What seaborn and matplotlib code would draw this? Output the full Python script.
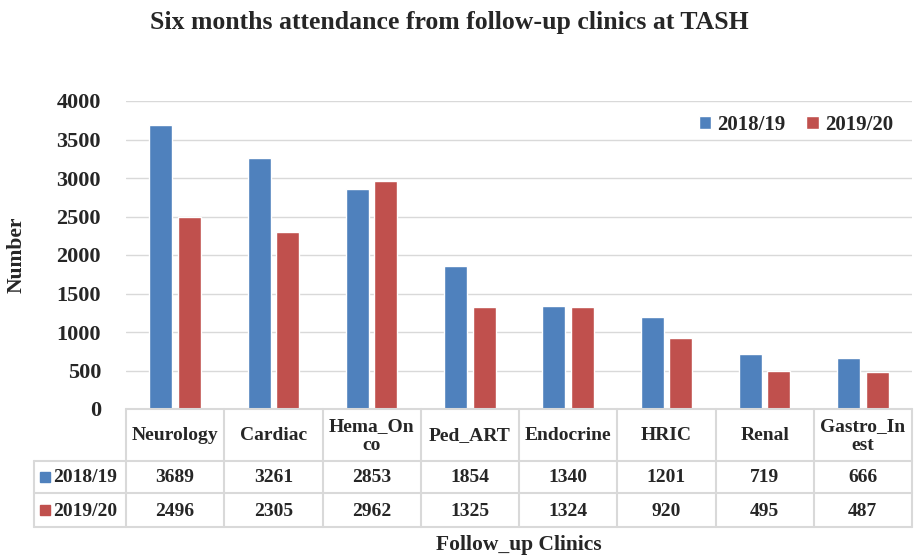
import pandas as pd
import matplotlib.pyplot as plt
import seaborn as sns
from matplotlib.patches import Rectangle
from matplotlib.lines import Line2D

clinics = ["Neurology", "Cardiac", "Hema_Onco", "Ped_ART", "Endocrine", "HRIC", "Renal", "Gastro_Inest"]
header_labels = ["Neurology", "Cardiac", "Hema_On\nco", "Ped_ART", "Endocrine", "HRIC", "Renal", "Gastro_In\nest"]
years = ["2018/19", "2019/20"]
vals_1819 = [3689, 3261, 2853, 1854, 1340, 1201, 719, 666]
vals_1920 = [2496, 2305, 2962, 1325, 1324, 920, 495, 487]
colors = ["#4F81BD", "#C0504D"]

df = pd.DataFrame({
    "Clinic": clinics * 2,
    "Year": [years[0]] * len(clinics) + [years[1]] * len(clinics),
    "Number": vals_1819 + vals_1920,
})

sns.set_style("white")
plt.rcParams["font.family"] = ["Liberation Serif", "DejaVu Serif"]
plt.rcParams["font.weight"] = "bold"

W, H = 914, 557
fig = plt.figure(figsize=(W / 100, H / 100), dpi=100)
ax = fig.add_axes([126 / W, 1 - 409 / H, 786 / W, 308 / H])

sns.barplot(data=df, x="Clinic", y="Number", hue="Year", palette=colors,
            width=0.58, gap=0.2, saturation=1, ax=ax, order=clinics)

ax.set_xlim(-0.5, 7.5)
ax.set_ylim(0, 4000)
ax.set_yticks(range(0, 4001, 500))
ax.yaxis.grid(True, color="#d9d9d9", linewidth=1)
ax.set_axisbelow(True)
for s in ["top", "right", "left", "bottom"]:
    ax.spines[s].set_visible(False)
ax.set_xticks([])
ax.set_xlabel("")
ax.set_ylabel("")
ax.tick_params(axis="y", labelsize=16, length=0, pad=18)
for t in ax.get_yticklabels():
    t.set_fontweight("bold")

ax.legend(loc="upper right", ncol=2, frameon=False, fontsize=15,
          handlelength=0.6, handleheight=0.6, handletextpad=0.3,
          columnspacing=1.0, bbox_to_anchor=(1.0, 1.015))


# data table under the bars, drawn in figure pixels
def px(x, y):
    return x / W, 1 - y / H


def hline(x0, x1, y):
    (a, b), (c, _) = px(x0, y), px(x1, y)
    fig.add_artist(Line2D([a, c], [b, b], color="#d9d9d9", lw=1.5))


def vline(x, y0, y1):
    (a, b), (_, d) = px(x, y0), px(x, y1)
    fig.add_artist(Line2D([a, a], [b, d], color="#d9d9d9", lw=1.5))


col_left = 126
col_w = 98.25
rows_y = [409, 461, 493, 527]
right = col_left + col_w * len(clinics)

hline(col_left, right, rows_y[0])
for y in rows_y[1:]:
    hline(34, right, y)
vline(34, rows_y[1], rows_y[3])
for i in range(len(clinics) + 1):
    vline(col_left + i * col_w, rows_y[0], rows_y[3])

for i, lab in enumerate(header_labels):
    cx = col_left + (i + 0.5) * col_w
    fig.text(*px(cx, (rows_y[0] + rows_y[1]) / 2 + 1), lab, ha="center", va="center",
             fontsize=14, fontweight="bold", linespacing=1.15)
    for r, vals in enumerate([vals_1819, vals_1920]):
        cy = (rows_y[r + 1] + rows_y[r + 2]) / 2 + 1
        fig.text(*px(cx, cy), str(vals[i]), ha="center", va="center",
                 fontsize=14, fontweight="bold")

for r, (yr, col) in enumerate(zip(years, colors)):
    cy = (rows_y[r + 1] + rows_y[r + 2]) / 2
    x0, y0 = px(40, cy + 5)
    fig.add_artist(Rectangle((x0, y0), 10 / W, 10 / H, transform=fig.transFigure, color=col))
    fig.text(*px(53, cy + 1), yr, ha="left", va="center", fontsize=14, fontweight="bold")

fig.text(*px(449, 22), "Six months attendance from follow-up clinics at TASH",
         ha="center", va="center", fontsize=18.5, fontweight="bold")
fig.text(*px(519, 545), "Follow_up Clinics", ha="center", va="center",
         fontsize=15.5, fontweight="bold")
fig.text(*px(17, 255), "Number", ha="center", va="center", rotation=90,
         fontsize=15.5, fontweight="bold")

fig.savefig("out.png", dpi=100)
